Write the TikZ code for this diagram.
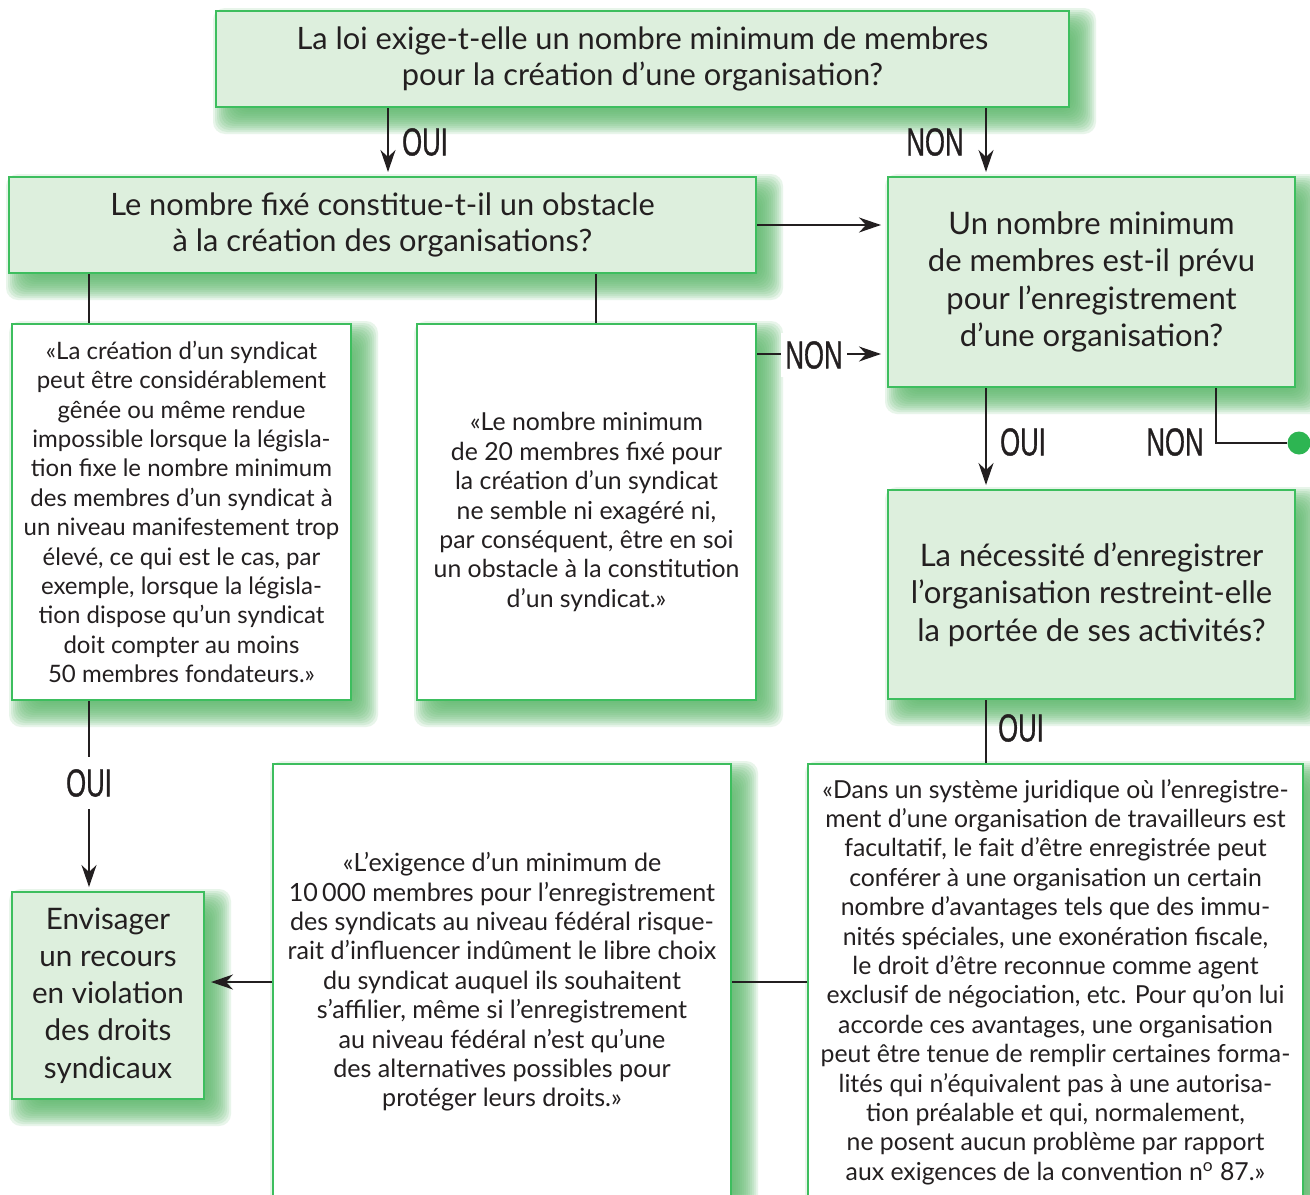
\documentclass[tikz,border=0pt]{standalone}
\usepackage{fontspec}
\usepackage{graphicx}
\setmainfont{Lato}
\newfontfamily\labelfont[FakeBold=1]{Liberation Sans}
\usetikzlibrary{arrows.meta,calc}
\definecolor{boxgreen}{HTML}{3DBE5E}
\definecolor{qfill}{HTML}{DDEFDD}
\definecolor{shadowgreen}{HTML}{5DB96B}
\definecolor{dotgreen}{HTML}{2DB552}
\definecolor{ink}{HTML}{231F20}
\pgfdeclarelayer{bg}
\pgfsetlayers{bg,main}
% condensed lettering for the yes/no labels
\newcommand\cond[1]{\scalebox{0.66}[1]{#1}}
\begin{document}
\begin{tikzpicture}[x=0.5pt,y=-0.5pt,
  box/.style={draw=boxgreen,line width=1pt,inner sep=0pt,align=center,text=ink},
  question/.style={box,fill=qfill,font=\fontsize{15.4}{18}\selectfont},
  bigq/.style={box,fill=qfill,font=\fontsize{15.5}{18.75}\selectfont},
  quote/.style={box,fill=white,font=\fontsize{#1}{14.7}\selectfont},
  lab/.style={font=\fontsize{19.5}{20}\labelfont,text=ink,inner sep=0pt},
  link/.style={draw=ink,line width=0.75pt},
  arr/.style={link,-{Stealth[length=11pt,width=7.5pt,inset=3.5pt]}}]
\useasboundingbox (0,0) rectangle (1310,1194);
\begin{pgfonlayer}{bg}
  \fill[white] (0,0) rectangle (1310,1194);
\end{pgfonlayer}

% questions
\node[question,minimum width=426.5pt,minimum height=48pt] (A) at (642.5,59)
  {La loi exige-t-elle un nombre minimum de membres\\pour la création d’une organisation?};
\node[question,minimum width=373.5pt,minimum height=48pt] (B) at (382.5,225)
  {Le nombre fixé constitue-t-il un obstacle\\à la création des organisations?};
\node[bigq,minimum width=203.5pt,minimum height=105pt] (C) at (1091.5,282)
  {Un nombre minimum\\de membres est-il prévu\\pour l’enregistrement\\d’une organisation?};
\node[bigq,minimum width=203.5pt,minimum height=104.5pt] (F) at (1091.5,594.5)
  {La nécessité d’enregistrer\\l’organisation restreint-elle\\la portée de ses activités?};
\node[bigq,font=\fontsize{14.8}{18.6}\selectfont,minimum width=96pt,minimum height=103.5pt] (G) at (108,995.5)
  {Envisager\\un recours\\en violation\\des droits\\syndicaux};

% quotations
\node[quote=12.0,minimum width=169.5pt,minimum height=188pt] (D) at (181.5,512)
  {«La création d’un syndicat\\peut être considérablement\\gênée ou même rendue\\impossible lorsque la législa-\\tion fixe le nombre minimum\\des membres d’un syndicat à\\un niveau manifestement trop\\élevé, ce qui est le cas, par\\exemple, lorsque la législa-\\tion dispose qu’un syndicat\\doit compter au moins\\50 membres fondateurs.»};
\node[quote=12.4,minimum width=169.5pt,minimum height=188pt] (E) at (586.5,512)
  {«Le nombre minimum\\de 20 membres fixé pour\\la création d’un syndicat\\ne semble ni exagéré ni,\\par conséquent, être en soi\\un obstacle à la constitution\\d’un syndicat.»};
\node[quote=12.55,minimum width=229pt,minimum height=218pt] (H) at (502,982)
  {«L’exigence d’un minimum de\\10\,000 membres pour l’enregistrement\\des syndicats au niveau fédéral risque-\\rait d’influencer indûment le libre choix\\du syndicat auquel ils souhaitent\\s’affilier, même si l’enregistrement\\au niveau fédéral n’est qu’une\\des alternatives possibles pour\\protéger leurs droits.»};
\node[quote=12.4,minimum width=247.5pt,minimum height=218pt] (I) at (1055.5,982)
  {«Dans un système juridique où l’enregistre-\\ment d’une organisation de travailleurs est\\facultatif, le fait d’être enregistrée peut\\conférer à une organisation un certain\\nombre d’avantages tels que des immu-\\nités spéciales, une exonération fiscale,\\le droit d’être reconnue comme agent\\exclusif de négociation, etc. Pour qu’on lui\\accorde ces avantages, une organisation\\peut être tenue de remplir certaines forma-\\lités qui n’équivalent pas à une autorisa-\\tion préalable et qui, normalement,\\ne posent aucun problème par rapport\\aux exigences de la convention n\textsuperscript{o} 87.»};

% soft green drop shadows, built from stacked translucent rectangles
\begin{pgfonlayer}{bg}
  \foreach \n in {A,B,C,D,E,F,G,H,I}{
    \foreach \e in {-12,-10,...,14}{
      \fill[shadowgreen,opacity=0.14,rounded corners=6pt]
        ($(\n.north west)+(12-\e,12-\e)$) rectangle ($(\n.south east)+(12+\e,12+\e)$);
    }
  }
\end{pgfonlayer}

% columns used by the connectors
\coordinate (xa) at (388,0);
\coordinate (xb) at (986,0);
\coordinate (xd) at (89,0);
\coordinate (xe) at (596,0);
\coordinate (xn) at (1216,0);
\coordinate (ye) at (0,354);

% labels
\node[lab] (o1) at (425,142) {\cond{OUI}};
\node[lab] (n1) at (935,142) {\cond{NON}};
\node[lab,fill=white,inner xsep=2pt,inner ysep=4pt] (n2) at (814,355) {\cond{NON}};
\node[lab] (o2) at (1023,442) {\cond{OUI}};
\node[lab] (n3) at (1175,442) {\cond{NON}};
\node[lab] (o3) at (1021,728) {\cond{OUI}};
\node[lab,inner ysep=6pt] (o4) at (89,783) {\cond{OUI}};
\node[circle,fill=dotgreen,inner sep=0pt,minimum size=11.5pt] (dot) at (1299,443) {};

% connectors
\draw[arr,shorten >=2pt] (A.south -| xa) -- (B.north -| xa);
\draw[arr,shorten >=2pt] (A.south -| xb) -- (C.north -| xb);
\draw[arr,shorten >=3pt] (B.east) -- (B.east -| C.west);
\draw[link] (B.south -| xd) -- (D.north -| xd);
\draw[link] (B.south -| xe) -- (E.north -| xe);
\draw[link] (E.east |- ye) -- (n2.west |- ye);
\draw[arr,shorten >=3pt] (n2.east |- ye) -- (C.west |- ye);
\draw[arr,shorten >=2pt] (C.south -| xb) -- (F.north -| xb);
\draw[link] (C.south -| xn) |- (dot.west);
\draw[link] (F.south -| xb) -- (I.north -| xb);
\draw[link] (D.south -| xd) -- (o4.north);
\draw[arr,shorten >=2pt] (o4.south) -- (G.north -| xd);
\draw[arr,shorten >=3pt] (H.west) -- (H.west -| G.east);
\draw[link] (I.west) -- (H.east);
\end{tikzpicture}
\end{document}
